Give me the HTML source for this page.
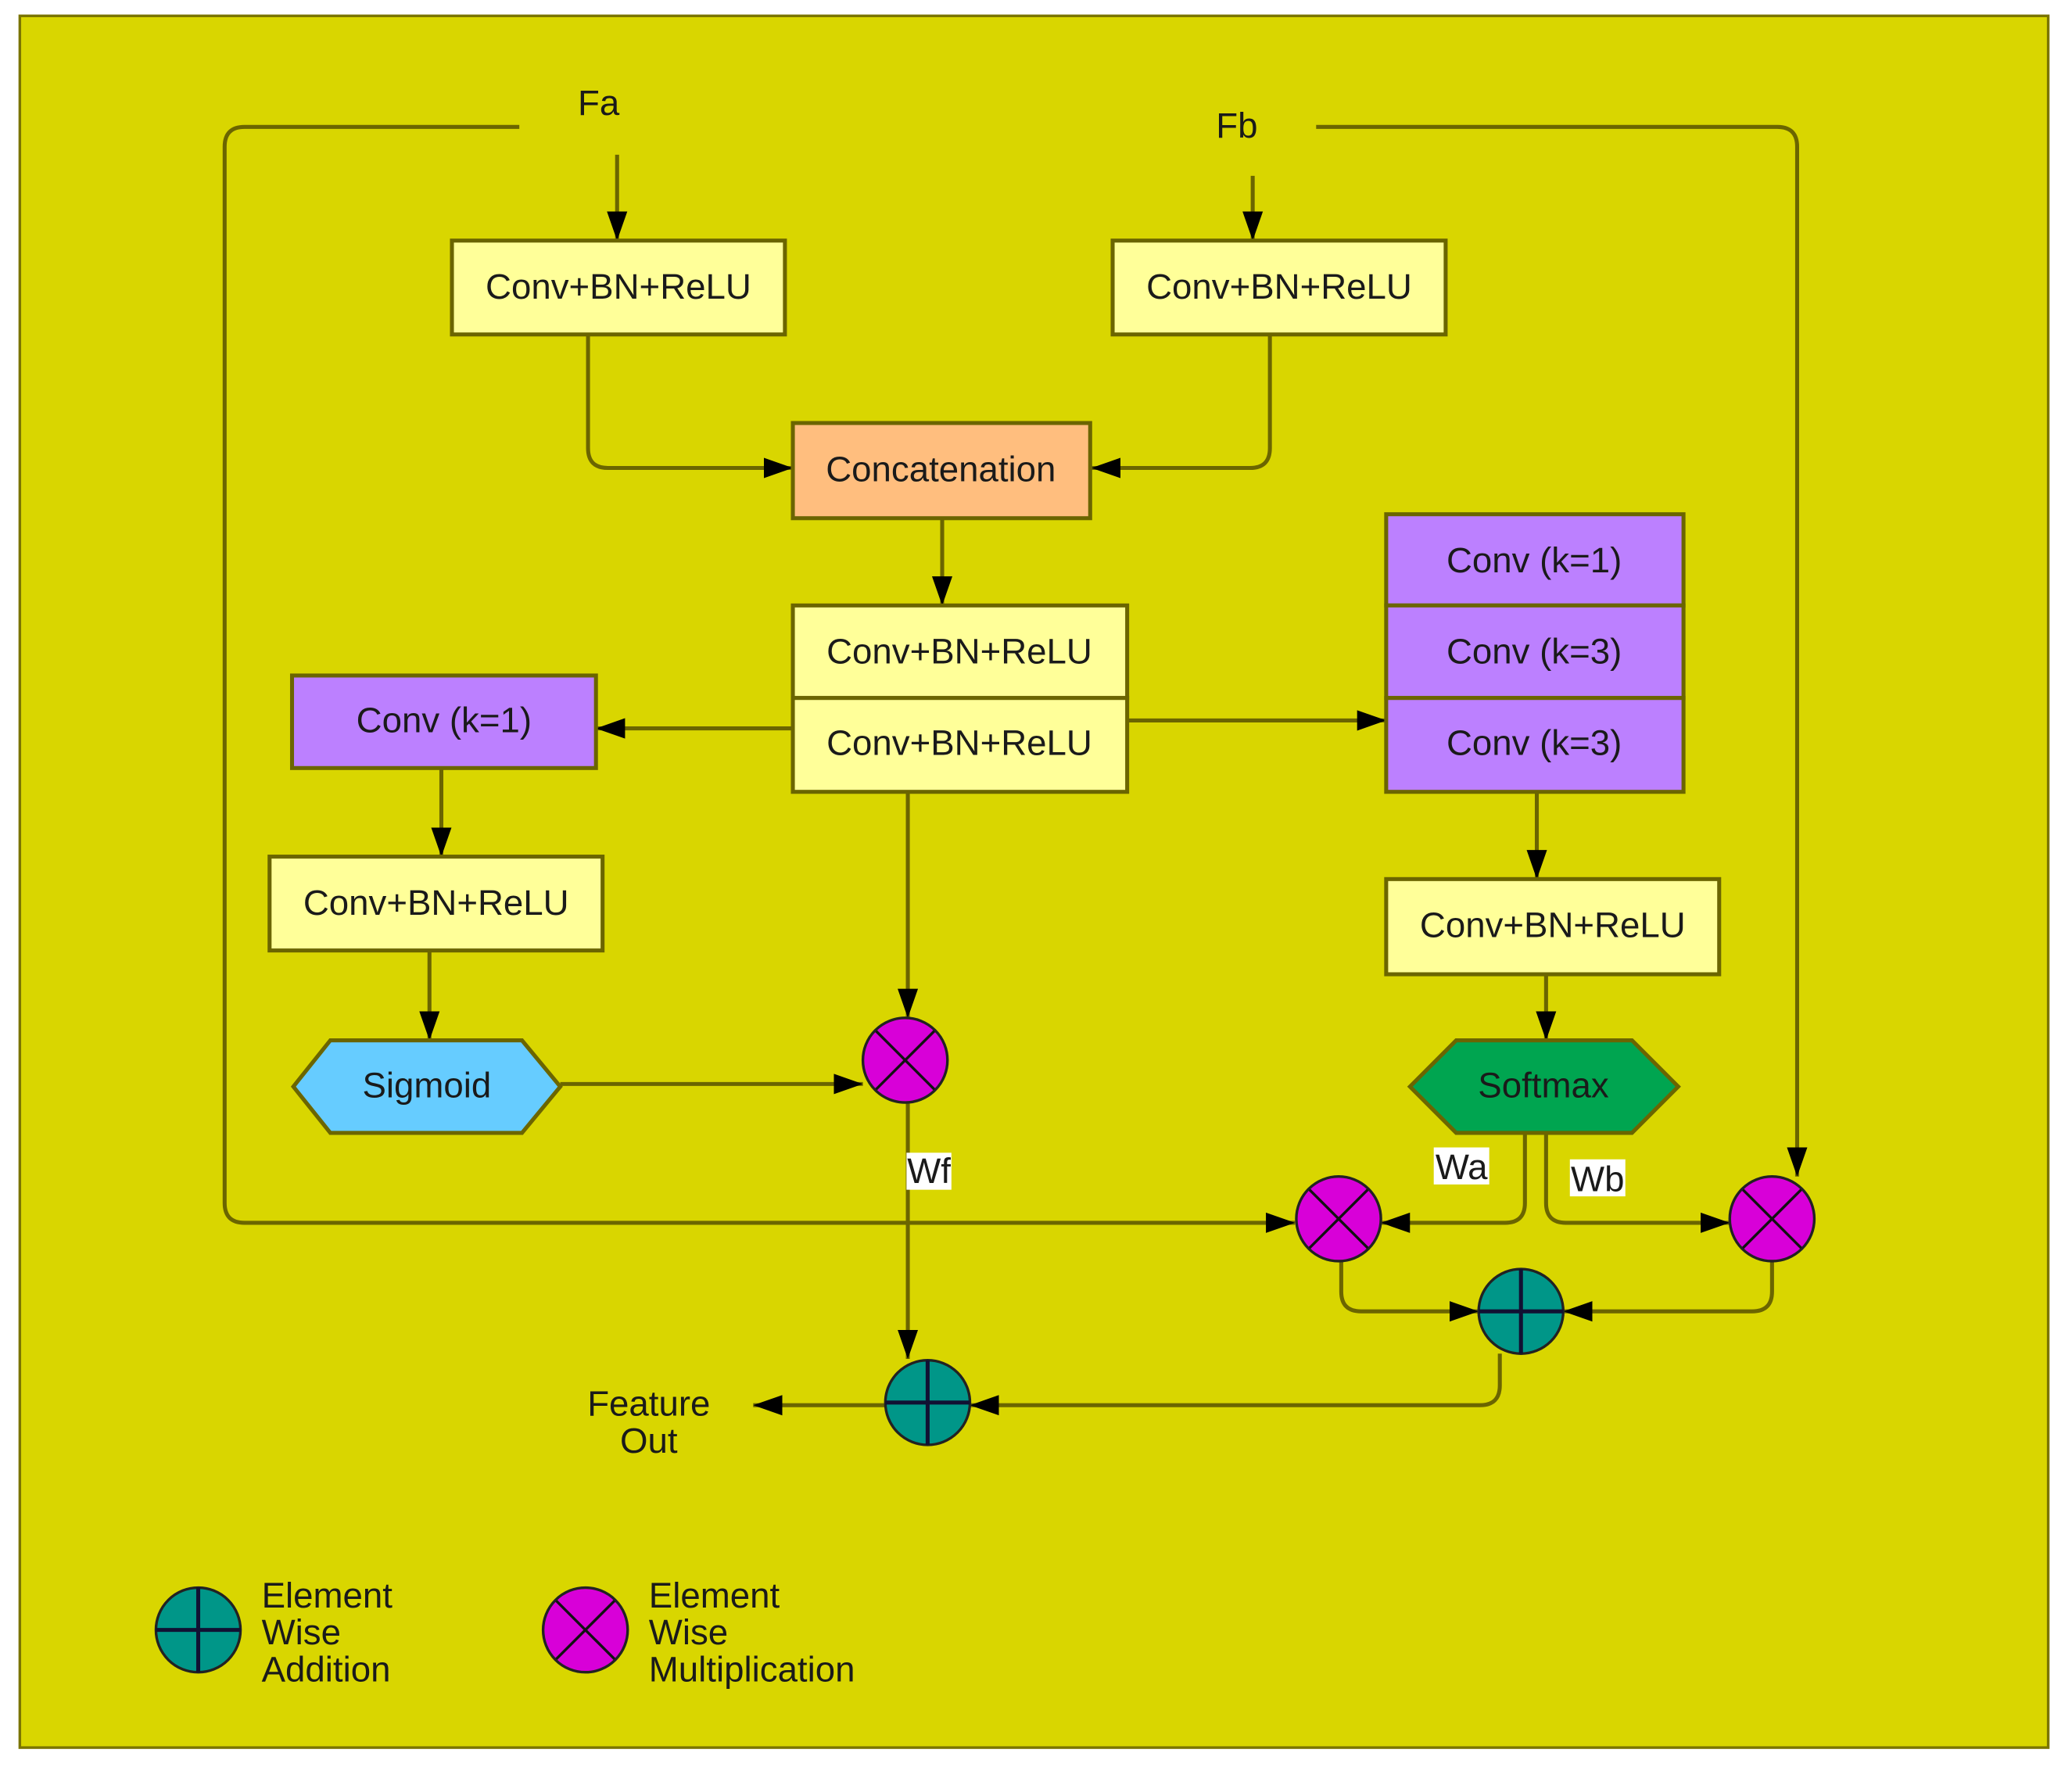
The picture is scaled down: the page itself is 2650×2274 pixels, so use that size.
<!DOCTYPE html>
<html><head><meta charset="utf-8"><style>html,body{margin:0;padding:0;background:#fff}svg{display:block}text{font-family:"Liberation Sans",sans-serif;font-size:27px;fill:#1a1a1a}</style></head><body>
<svg width="2650" height="2274" viewBox="0 0 1568 1345" preserveAspectRatio="none" xmlns="http://www.w3.org/2000/svg">
<defs>
<marker id="a" viewBox="0 0 10 10" refX="10" refY="5" markerWidth="7" markerHeight="7" markerUnits="userSpaceOnUse" orient="auto"><path d="M0,0 L10,5 L0,10 z" fill="#000"/></marker>
<marker id="b" viewBox="0 0 10 10" refX="10" refY="5" markerWidth="22" markerHeight="22" markerUnits="userSpaceOnUse" orient="auto"><path d="M0,1.5 L10,5 L0,8.5 z" fill="#000"/></marker>
<g id="mul"><circle r="32" fill="#D800D8" stroke="#222" stroke-width="2"/><path d="M-22,-22L22,22M22,-22L-22,22" stroke="#111" stroke-width="2"/></g>
<g id="add"><circle r="32" fill="#009688" stroke="#222" stroke-width="2"/><path d="M0,-32V32M-32,0H32" stroke="#113" stroke-width="3"/></g>
</defs>
<rect x="15" y="12" width="1535" height="1310" fill="#D9D600" stroke="#7a7400" stroke-width="2"/>
<g fill="none" stroke="#6b6500" stroke-width="3">
<path d="M393,96 H185 Q170,96 170,111 V910 Q170,925 185,925 H980" marker-end="url(#b)"/>
<path d="M467,117 V182" marker-end="url(#b)"/>
<path d="M948,133 V182" marker-end="url(#b)"/>
<path d="M445,253 V339 Q445,354 460,354 H600" marker-end="url(#b)"/>
<path d="M961,253 V339 Q961,354 946,354 H826" marker-end="url(#b)"/>
<path d="M996,96 H1345 Q1360,96 1360,111 V890" marker-end="url(#b)"/>
<path d="M713,392 V458" marker-end="url(#b)"/>
<path d="M600,551 H451" marker-end="url(#b)"/>
<path d="M853,545 H1049" marker-end="url(#b)"/>
<path d="M334,581 V648" marker-end="url(#b)"/>
<path d="M325,719 V787" marker-end="url(#b)"/>
<path d="M424,820 H653" marker-end="url(#b)"/>
<path d="M687,599 V770" marker-end="url(#b)"/>
<path d="M687,834 V1028" marker-end="url(#b)"/>
<path d="M1163,599 V665" marker-end="url(#b)"/>
<path d="M1170,737 V787" marker-end="url(#b)"/>
<path d="M1154,857 V910 Q1154,925 1139,925 H1045" marker-end="url(#b)"/>
<path d="M1170,857 V910 Q1170,925 1185,925 H1309" marker-end="url(#b)"/>
<path d="M1015,954 V977 Q1015,992 1030,992 H1119" marker-end="url(#b)"/>
<path d="M1341,954 V977 Q1341,992 1326,992 H1183" marker-end="url(#b)"/>
<path d="M1135,1024 V1048 Q1135,1063 1120,1063 H734" marker-end="url(#b)"/>
<path d="M670,1063 H570" marker-end="url(#b)"/>
</g>
<g stroke="#6b6500" stroke-width="3">
<rect x="342" y="182" width="252" height="71" fill="#FFFF99"/>
<rect x="842" y="182" width="252" height="71" fill="#FFFF99"/>
<rect x="600" y="320" width="225" height="72" fill="#FFBE7E"/>
<rect x="600" y="458" width="253" height="70" fill="#FFFF99"/>
<rect x="600" y="528" width="253" height="71" fill="#FFFF99"/>
<rect x="221" y="511" width="230" height="70" fill="#BC80FF"/>
<rect x="1049" y="389" width="225" height="69" fill="#BC80FF"/>
<rect x="1049" y="458" width="225" height="70" fill="#BC80FF"/>
<rect x="1049" y="528" width="225" height="71" fill="#BC80FF"/>
<rect x="204" y="648" width="252" height="71" fill="#FFFF99"/>
<rect x="1049" y="665" width="252" height="72" fill="#FFFF99"/>
<polygon points="222,822 250,787 395,787 424,822 395,857 250,857" fill="#66CCFF"/>
<polygon points="1067,822 1102,787 1235,787 1270,822 1235,857 1102,857" fill="#00A550"/>
</g>
<use href="#mul" x="685" y="802"/>
<use href="#mul" x="1013" y="922"/>
<use href="#mul" x="1341" y="922"/>
<use href="#add" x="1151" y="992"/>
<use href="#add" x="702" y="1061"/>
<use href="#add" x="150" y="1233"/>
<use href="#mul" x="443" y="1233"/>
<rect x="686" y="872" width="34" height="28" fill="#fff"/>
<rect x="1085" y="868" width="42" height="28" fill="#fff"/>
<rect x="1188" y="877" width="42" height="28" fill="#fff"/>
<g text-anchor="middle">
<text x="453" y="87">Fa</text>
<text x="936" y="104">Fb</text>
<text x="468" y="226">Conv+BN+ReLU</text>
<text x="968" y="226">Conv+BN+ReLU</text>
<text x="712" y="364">Concatenation</text>
<text x="726" y="502">Conv+BN+ReLU</text>
<text x="726" y="571">Conv+BN+ReLU</text>
<text x="336" y="554">Conv (k=1)</text>
<text x="1161" y="433">Conv (k=1)</text>
<text x="1161" y="502">Conv (k=3)</text>
<text x="1161" y="571">Conv (k=3)</text>
<text x="330" y="692">Conv+BN+ReLU</text>
<text x="1175" y="709">Conv+BN+ReLU</text>
<text x="323" y="830">Sigmoid</text>
<text x="1168" y="830">Softmax</text>
<text x="703" y="895">Wf</text>
<text x="1106" y="892">Wa</text>
<text x="1209" y="901">Wb</text>
<text x="491" y="1071">Feature</text>
<text x="491" y="1099">Out</text>
</g>
<text x="198" y="1216">Element</text>
<text x="198" y="1244">Wise</text>
<text x="198" y="1272">Addition</text>
<text x="491" y="1216">Element</text>
<text x="491" y="1244">Wise</text>
<text x="491" y="1272">Multiplication</text>
</svg>
</body></html>
